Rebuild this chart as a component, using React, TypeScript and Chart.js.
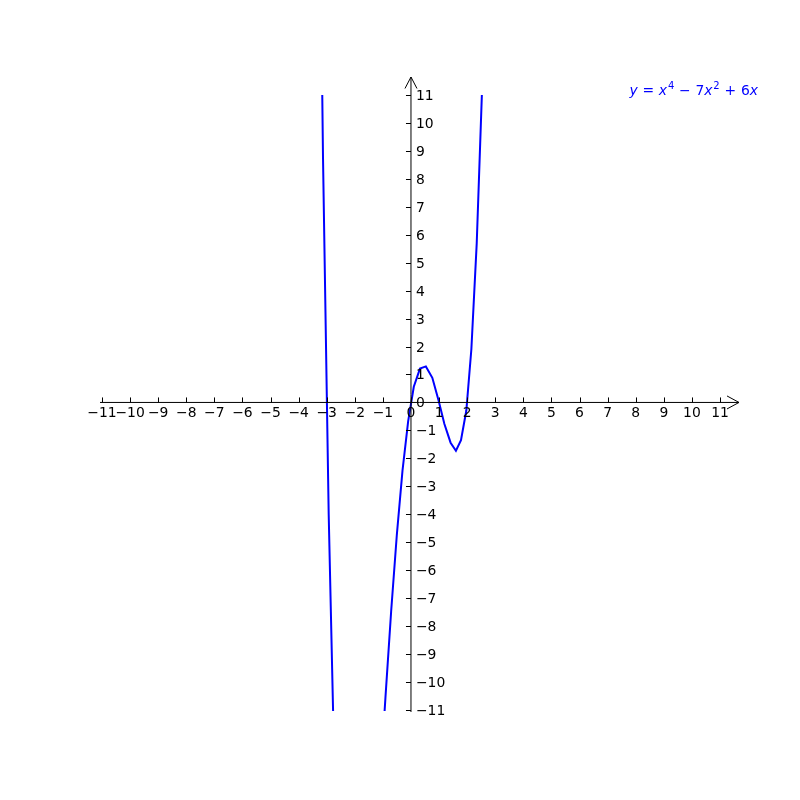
import React, { useEffect, useRef } from "react";
import { Chart, registerables } from "chart.js";

Chart.register(...registerables);

// vertices of the plotted polyline of y = x^4 - 7x^2 + 6x
const xValues = [-3.333, -3.131, -2.929, -2.727, -2.525, -2.323, -2.121, -1.919, -1.717, -1.515, -1.313, -1.111, -0.909, -0.707, -0.505, -0.303, -0.101, 0.1, 0.32, 0.53, 0.76, 0.98, 1.19, 1.41, 1.6, 1.78, 1.97, 2.15, 2.34, 2.53, 2.72];
const yValues = [25.68, 8.72, -4.01, -13.11, -19.12, -22.59, -23.98, -23.73, -22.25, -19.89, -16.98, -13.78, -10.56, -7.49, -4.75, -2.45, -0.68, 0.56, 1.21, 1.29, 0.88, 0.08, -0.77, -1.44, -1.73, -1.35, -0.29, 1.91, 5.69, 11.2, 19.4];

const xTicks = [-11, -10, -9, -8, -7, -6, -5, -4, -3, -2, -1, 0, 1, 2, 3, 4, 5, 6, 7, 8, 9, 10, 11];
const yTicks = [-11, -10, -9, -8, -7, -6, -5, -4, -3, -2, -1, 0, 1, 2, 3, 4, 5, 6, 7, 8, 9, 10, 11];

const fmt = (v: number) => (v < 0 ? "\u2212" + Math.abs(v) : String(v));

const FONT = "13.9px 'DejaVu Sans'";

const axesPlugin = {
  id: "centerAxes",
  afterDatasetsDraw(chart: any) {
    const ctx = chart.ctx as CanvasRenderingContext2D;
    const xs = chart.scales.x;
    const ys = chart.scales.y;
    const area = chart.chartArea;
    const x0 = xs.getPixelForValue(0);
    const y0 = ys.getPixelForValue(0);
    ctx.save();
    ctx.strokeStyle = "#000";
    ctx.lineWidth = 1;
    // x axis line with arrow
    const xEnd = area.right + 19;
    ctx.beginPath();
    ctx.moveTo(area.left, y0);
    ctx.lineTo(xEnd, y0);
    ctx.stroke();
    ctx.beginPath();
    ctx.moveTo(xEnd - 12, y0 - 6.5);
    ctx.lineTo(xEnd, y0);
    ctx.lineTo(xEnd - 12, y0 + 6.5);
    ctx.stroke();
    // y axis line with arrow
    const yEnd = area.top - 18;
    ctx.beginPath();
    ctx.moveTo(x0, area.bottom + 1);
    ctx.lineTo(x0, yEnd);
    ctx.stroke();
    ctx.beginPath();
    ctx.moveTo(x0 - 6, yEnd + 11.5);
    ctx.lineTo(x0, yEnd);
    ctx.lineTo(x0 + 6, yEnd + 11.5);
    ctx.stroke();

    // ticks
    ctx.beginPath();
    for (const t of xTicks) {
      const px = Math.round(xs.getPixelForValue(t)) + 0.5;
      ctx.moveTo(px, y0);
      ctx.lineTo(px, y0 - 5);
    }
    for (const t of yTicks) {
      const py = Math.round(ys.getPixelForValue(t)) + 0.5;
      ctx.moveTo(x0, py);
      ctx.lineTo(x0 - 5, py);
    }
    ctx.stroke();

    // tick labels
    ctx.fillStyle = "#000";
    ctx.font = FONT;
    ctx.textBaseline = "alphabetic";
    ctx.textAlign = "center";
    for (const t of xTicks) {
      ctx.fillText(fmt(t), xs.getPixelForValue(t), y0 + 14.5);
    }
    ctx.textAlign = "left";
    for (const t of yTicks) {
      ctx.fillText(fmt(t), x0 + 5, ys.getPixelForValue(t) + 5);
    }

    // equation label (mathtext-like)
    const g = 4.8;
    const parts: { t: string; it?: boolean; sup?: boolean; gapL?: number }[] = [
      { t: "y", it: true },
      { t: "=", gapL: g },
      { t: "x", it: true, gapL: g },
      { t: "4", sup: true },
      { t: "\u2212", gapL: g },
      { t: "7", gapL: g },
      { t: "x", it: true },
      { t: "2", sup: true },
      { t: "+", gapL: g },
      { t: "6", gapL: g },
      { t: "x", it: true },
    ];
    const fontFor = (p: any) =>
      (p.it ? "italic " : "") + (p.sup ? "10px" : "13.9px") + " 'DejaVu Sans'";
    let total = 0;
    const widths: number[] = [];
    for (const p of parts) {
      ctx.font = fontFor(p);
      const w = ctx.measureText(p.t).width;
      widths.push(w);
      total += (p.gapL || 0) + w + (p.sup ? 0.8 : 0);
    }
    let cx = 758 - total;
    const base = 95;
    ctx.fillStyle = "#0000ff";
    ctx.textAlign = "left";
    parts.forEach((p, i) => {
      ctx.font = fontFor(p);
      cx += p.gapL || 0;
      if (p.sup) cx += 0.8;
      ctx.fillText(p.t, cx, p.sup ? base - 6 : base);
      cx += widths[i];
    });
    ctx.restore();
  },
};

export default function App() {
  const ref = useRef<HTMLCanvasElement | null>(null);
  useEffect(() => {
    if (!ref.current) return;
    const chart = new Chart(ref.current, {
      type: "scatter",
      data: {
        datasets: [
          {
            data: xValues.map((x, i) => ({ x, y: yValues[i] })),
            showLine: true,
            borderColor: "#0000ff",
            borderWidth: 2,
            pointRadius: 0,
            fill: false,
            tension: 0,
            clip: 0,
          } as any,
        ],
      },
      options: {
        responsive: false,
        animation: false,
        devicePixelRatio: 1,
        layout: { padding: { left: 100, right: 80, top: 95, bottom: 89 } },
        plugins: { legend: { display: false }, tooltip: { enabled: false }, title: { display: false } },
        events: [],
        scales: {
          x: { type: "linear", min: -11.07, max: 11, display: false },
          y: { type: "linear", min: -11.04, max: 11, display: false },
        },
      },
      plugins: [axesPlugin],
    });
    return () => chart.destroy();
  }, []);
  return (
    <div style={{ position: "absolute", left: 0, top: 0, width: 800, height: 800, background: "#fff" }}>
      <canvas ref={ref} width={800} height={800} style={{ width: 800, height: 800 }} />
    </div>
  );
}
